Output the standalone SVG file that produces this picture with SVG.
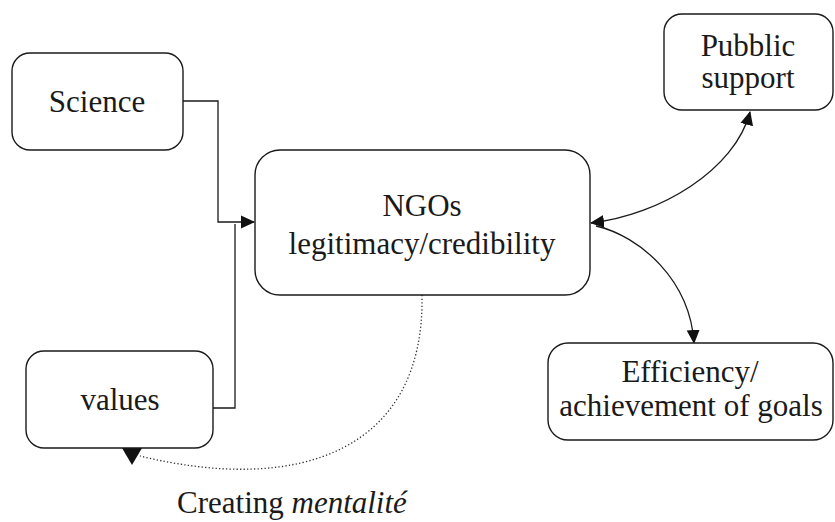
<svg xmlns="http://www.w3.org/2000/svg" width="835" height="522" viewBox="0 0 835 522">
<style>
.box{fill:#fff;stroke:#1a1a1a;stroke-width:1.4}
.t{font-family:"Liberation Serif","Times New Roman",serif;font-size:31px;fill:#1a1a1a;text-anchor:middle}
.c{fill:none;stroke:#1a1a1a;stroke-width:1.3}
.d{fill:none;stroke:#333;stroke-width:1.3;stroke-dasharray:1.3 2.2}
.h{fill:#111}
</style>
<defs>
<marker id="ah" viewBox="0 0 14 14" refX="13" refY="7" markerWidth="14" markerHeight="14" markerUnits="userSpaceOnUse" orient="auto-start-reverse">
<path d="M0,0.5 L14,7 L0,13.5 Z" fill="#111"/>
</marker>
</defs>
<g id="connectors">
<polyline class="c" points="183,101 218,101 218,222 254,222" marker-end="url(#ah)"/>
<polyline class="c" points="213,408 235,408 235,224"/>
<path class="c" d="M591,223 C660,215 735,170 750,112" marker-start="url(#ah)" marker-end="url(#ah)"/>
<path class="c" d="M596,226 C640,236 690,280 694,343" marker-end="url(#ah)"/>
<path class="d" d="M422,295 C425,450 300,495 140,456"/>
<polygon class="h" points="122,448 142,448 132,465"/>
</g>
<g id="science">
<rect class="box" x="12" y="53" width="171" height="97" rx="18"/>
<text class="t" x="97" y="112">Science</text>
</g>
<g id="ngos">
<rect class="box" x="255" y="150" width="335" height="145" rx="25"/>
<text class="t" x="422" y="216">NGOs</text>
<text class="t" x="422" y="254">legitimacy/credibility</text>
</g>
<g id="values">
<rect class="box" x="26" y="351" width="187" height="97" rx="18"/>
<text class="t" x="120" y="410">values</text>
</g>
<g id="public">
<rect class="box" x="664" y="14" width="169" height="96" rx="18"/>
<text class="t" x="748" y="56">Pubblic</text>
<text class="t" x="748" y="88">support</text>
</g>
<g id="efficiency">
<rect class="box" x="548" y="343" width="285" height="97" rx="20"/>
<text class="t" x="690" y="382">Efficiency/</text>
<text class="t" x="691" y="416">achievement of goals</text>
</g>
<text class="t" x="177" y="513" style="text-anchor:start">Creating <tspan font-style="italic">mentalité</tspan></text>
</svg>
